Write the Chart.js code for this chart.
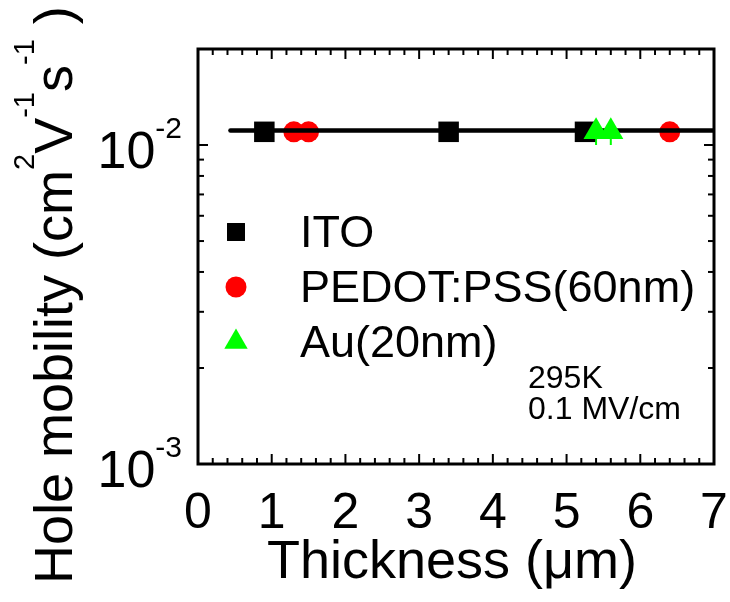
<!DOCTYPE html>
<html>
<head>
<meta charset="utf-8">
<script src="https://cdn.jsdelivr.net/npm/chart.js@4.4.1/dist/chart.umd.min.js"></script>
<style>
  body { margin: 0; background: #fff; }
</style>
</head>
<body>
<canvas id="grafica" width="730" height="602"></canvas>
<script>
// valores
const itoX = [0.9, 3.4, 5.25];
const itoY = [0.011, 0.011, 0.011];
const pedotX = [1.3, 1.5, 6.4];
const pedotY = [0.011, 0.011, 0.011];
const auX = [5.4, 5.6];
const auY = [0.011, 0.011];
const auErr = [0.001, 0.001];
const ajusteX = [0.44, 7];
const ajusteY = [0.0111, 0.0111];

const nombres = ['ITO', 'PEDOT:PSS(60nm)', 'Au(20nm)'];
const xTicks = [0, 1, 2, 3, 4, 5, 6, 7];
const yTicks = [0.001, 0.01];
const yExpo = ['-3', '-2'];
const yMenores = [0.002, 0.003, 0.004, 0.005, 0.006, 0.007, 0.008, 0.009, 0.02];
const notas = ['295K', '0.1 MV/cm'];

const fuente = '"Liberation Sans", Arial, sans-serif';
const puntos = (xs, ys) => xs.map((x, i) => ({x: x, y: ys[i]}));

const marco = {
  id: 'marco',
  beforeDatasetsDraw(chart) {
    // barras de error del Au
    const {ctx, scales: {x, y}} = chart;
    ctx.save();
    ctx.strokeStyle = '#00ff00';
    ctx.lineWidth = 2;
    auX.forEach((v, i) => {
      const px = x.getPixelForValue(v);
      ctx.beginPath();
      ctx.moveTo(px, y.getPixelForValue(auY[i] - auErr[i]));
      ctx.lineTo(px, y.getPixelForValue(auY[i] + auErr[i]));
      ctx.stroke();
    });
    ctx.restore();
  },
  afterDraw(chart) {
    const {ctx, chartArea: a, scales: {x, y}} = chart;
    ctx.save();
    ctx.strokeStyle = '#000';
    ctx.fillStyle = '#000';
    ctx.lineWidth = 3;
    ctx.strokeRect(a.left, a.top, a.right - a.left, a.bottom - a.top);

    // ticks hacia adentro
    ctx.lineWidth = 2;
    const raya = (x1, y1, x2, y2) => {
      ctx.beginPath(); ctx.moveTo(x1, y1); ctx.lineTo(x2, y2); ctx.stroke();
    };
    for (let k = 0; k <= 35; k++) {
      const px = x.getPixelForValue(k / 5);
      const largo = k % 5 === 0 ? 10 : 6;
      raya(px, a.bottom, px, a.bottom - largo);
      raya(px, a.top, px, a.top + largo);
    }
    yTicks.forEach(v => {
      const py = y.getPixelForValue(v);
      raya(a.left, py, a.left + 10, py);
      raya(a.right, py, a.right - 10, py);
    });
    yMenores.forEach(v => {
      const py = y.getPixelForValue(v);
      raya(a.left, py, a.left + 6, py);
      raya(a.right, py, a.right - 6, py);
    });

    // etiquetas
    ctx.textBaseline = 'alphabetic';
    ctx.font = '50px ' + fuente;
    ctx.textAlign = 'center';
    xTicks.forEach(v => ctx.fillText(String(v), x.getPixelForValue(v), 528));

    yTicks.forEach((v, i) => {
      const py = y.getPixelForValue(v);
      ctx.font = '30px ' + fuente;
      const w = ctx.measureText(yExpo[i]).width;
      ctx.textAlign = 'left';
      ctx.fillText(yExpo[i], 182 - w, py - 7);
      ctx.font = '52px ' + fuente;
      ctx.textAlign = 'right';
      ctx.fillText('10', 182 - w, py + 23);
    });

    // titulos
    ctx.font = '54px ' + fuente;
    ctx.textAlign = 'center';
    ctx.fillText('Thickness (\u03bcm)', (a.left + a.right) / 2 - 4, 578);

    ctx.translate(72, 584);
    ctx.rotate(-Math.PI / 2);
    ctx.textAlign = 'left';
    const partes = [['Hole mobility (cm', 0], ['2', 1], ['V', 0], ['-1', 1], ['s', 0], ['-1', 1], [' )', 0]];
    let pos = 0;
    partes.forEach(p => {
      ctx.font = (p[1] ? '29px ' : '54px ') + fuente;
      ctx.fillText(p[0], pos, p[1] ? -38 : 0);
      pos += ctx.measureText(p[0]).width;
    });
    ctx.setTransform(1, 0, 0, 1, 0, 0);

    // leyenda
    const ds = chart.data.datasets;
    nombres.forEach((n, i) => {
      const base = 247 + i * 55;
      ctx.fillStyle = ds[i].backgroundColor;
      Chart.helpers.drawPoint(ctx, {pointStyle: ds[i].pointStyle, radius: [12.7, 10.5, 13.5][i], rotation: 0, borderWidth: 0}, 236, base - 15);
      ctx.fillStyle = '#000';
      ctx.font = '45px ' + fuente;
      ctx.fillText(n, 300, base);
    });

    ctx.font = '32px ' + fuente;
    ctx.fillText(notas[0], 528, 388);
    ctx.fillText(notas[1], 528, 419);
    ctx.restore();
  }
};

new Chart(document.getElementById('grafica'), {
  type: 'scatter',
  data: {
    datasets: [
      {label: nombres[0], data: puntos(itoX, itoY), pointStyle: 'rect', pointRadius: 14.5, backgroundColor: '#000000', borderWidth: 0, order: 2},
      {label: nombres[1], data: puntos(pedotX, pedotY), pointStyle: 'circle', pointRadius: 10.5, backgroundColor: '#ff0000', borderWidth: 0, order: 2},
      {label: nombres[2], data: puntos(auX, auY), pointStyle: 'triangle', pointRadius: 14.5, backgroundColor: '#00ff00', borderWidth: 0, order: 0},
      {label: 'ajuste', type: 'line', data: puntos(ajusteX, ajusteY), borderColor: '#000', borderWidth: 4.5, borderCapStyle: 'round', pointRadius: 0, order: 1}
    ]
  },
  options: {
    responsive: false,
    animation: false,
    devicePixelRatio: 1,
    layout: {padding: {left: 190, right: 16, top: 49, bottom: 130}},
    plugins: {legend: {display: false}, tooltip: {enabled: false}},
    scales: {
      x: {type: 'linear', min: 0, max: 7, ticks: {display: false}, grid: {display: false}, border: {display: false}},
      y: {type: 'logarithmic', min: 0.001, max: 0.02, ticks: {display: false}, grid: {display: false}, border: {display: false}}
    }
  },
  plugins: [marco]
});
</script>
</body>
</html>
